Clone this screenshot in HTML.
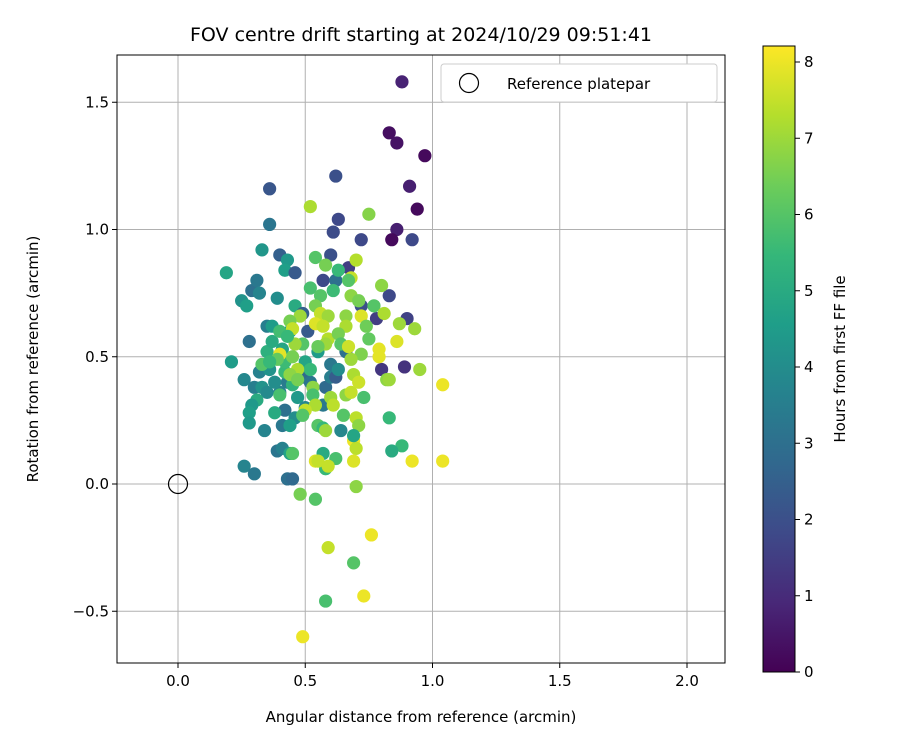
<!DOCTYPE html>
<html><head><meta charset="utf-8"><style>
body{margin:0;background:#fff;font-family:"Liberation Sans","DejaVu Sans",sans-serif}
svg text{font-family:"DejaVu Sans","Liberation Sans",sans-serif;fill:#000}
</style></head><body>
<svg id="c" width="900" height="750" xmlns="http://www.w3.org/2000/svg">
<rect width="900" height="750" fill="#fff"/>
<text x="421" y="41" text-anchor="middle" font-size="19">FOV centre drift starting at 2024/10/29 09:51:41</text>
<g id="grid"></g><g id="pts"></g><g id="ax"></g>
<defs><linearGradient id="vg" x1="0" y1="1" x2="0" y2="0">
</linearGradient></defs>
</svg>
<script>
const xs=[0.88,0.83,0.86,0.97,0.91,0.94,0.86,0.84,0.92,0.62,0.36,0.63,0.61,0.72,0.36,0.19,0.21,0.26,0.25,0.27,0.29,0.31,0.33,0.32,0.28,0.35,0.37,0.39,0.40,0.43,0.42,0.46,0.34,0.32,0.30,0.33,0.35,0.31,0.29,0.28,0.28,0.26,0.30,0.34,0.39,0.41,0.43,0.45,0.44,0.41,0.42,0.40,0.43,0.38,0.36,0.41,0.44,0.46,0.49,0.51,0.49,0.52,0.47,0.46,0.44,0.50,0.57,0.58,0.60,0.62,0.60,0.63,0.66,0.55,0.57,0.62,0.60,0.67,0.72,0.78,0.83,0.90,0.89,0.80,0.82,0.64,0.58,0.57,0.45,0.40,0.42,0.45,0.38,0.35,0.37,0.40,0.42,0.50,0.52,0.33,0.52,0.75,0.54,0.58,0.63,0.68,0.70,0.67,0.80,0.52,0.56,0.61,0.68,0.71,0.77,0.54,0.56,0.48,0.44,0.45,0.59,0.66,0.66,0.72,0.74,0.81,0.87,0.93,0.54,0.57,0.59,0.63,0.64,0.58,0.55,0.49,0.46,0.43,0.45,0.40,0.39,0.36,0.47,0.44,0.47,0.53,0.53,0.54,0.50,0.49,0.60,0.61,0.66,0.68,0.69,0.71,0.65,0.70,0.71,0.75,0.72,0.68,0.67,0.79,0.79,0.86,0.83,0.95,1.04,0.73,0.83,0.88,0.84,0.92,1.04,0.69,0.70,0.69,0.62,0.54,0.55,0.59,0.69,0.55,0.57,0.58,0.48,0.54,0.70,0.59,0.76,0.69,0.58,0.73,0.49];
const ys=[1.58,1.38,1.34,1.29,1.17,1.08,1.00,0.96,0.96,1.21,1.16,1.04,0.99,0.96,1.02,0.83,0.48,0.41,0.72,0.70,0.76,0.80,0.92,0.75,0.56,0.62,0.62,0.73,0.90,0.88,0.84,0.83,0.46,0.44,0.38,0.38,0.36,0.33,0.31,0.28,0.24,0.07,0.04,0.21,0.13,0.14,0.02,0.02,0.12,0.23,0.29,0.36,0.40,0.40,0.45,0.53,0.60,0.70,0.67,0.60,0.42,0.40,0.34,0.26,0.23,0.30,0.31,0.38,0.42,0.42,0.47,0.45,0.52,0.52,0.80,0.80,0.90,0.85,0.70,0.65,0.74,0.65,0.46,0.45,0.41,0.21,0.06,0.12,0.12,0.35,0.44,0.39,0.28,0.52,0.56,0.60,0.48,0.48,0.45,0.47,1.09,1.06,0.89,0.86,0.84,0.81,0.88,0.80,0.78,0.77,0.74,0.76,0.74,0.72,0.70,0.70,0.67,0.66,0.64,0.61,0.66,0.66,0.62,0.66,0.62,0.67,0.63,0.61,0.63,0.62,0.57,0.59,0.55,0.55,0.54,0.55,0.55,0.58,0.50,0.51,0.49,0.48,0.45,0.43,0.41,0.38,0.35,0.31,0.29,0.27,0.34,0.31,0.35,0.36,0.43,0.40,0.27,0.26,0.23,0.57,0.51,0.49,0.54,0.53,0.50,0.56,0.41,0.45,0.39,0.34,0.26,0.15,0.13,0.09,0.09,0.17,0.14,0.09,0.10,0.09,0.09,0.07,0.19,0.23,0.22,0.21,-0.04,-0.06,-0.01,-0.25,-0.20,-0.31,-0.46,-0.44,-0.60];
const hours=[0.8,0.3,0.4,0.2,0.7,0.2,0.7,0.2,1.8,2.0,2.2,1.8,1.9,1.8,3.2,4.8,4.5,3.8,4.2,4.6,3.0,3.3,4.3,3.7,3.0,3.5,4.5,4.0,2.5,4.4,4.6,2.3,4.0,3.6,3.5,4.2,3.9,5.0,4.4,4.6,4.4,3.7,3.3,3.7,3.2,3.6,3.0,2.8,4.7,3.3,3.0,3.6,3.4,4.0,4.2,4.8,4.3,5.0,2.5,2.3,2.8,3.2,4.4,4.0,4.6,3.8,3.3,2.8,3.5,2.4,3.3,4.0,3.0,4.5,1.8,3.0,2.0,1.5,2.0,1.5,1.8,1.6,1.2,1.3,6.8,3.8,5.5,5.0,6.0,5.8,5.5,5.3,5.0,5.2,5.0,5.7,5.6,4.8,5.5,6.0,7.2,6.7,6.0,6.5,5.5,7.5,7.3,6.0,6.8,5.8,6.0,5.6,6.8,6.5,6.0,6.5,7.5,7.0,6.5,7.5,7.0,6.8,7.2,7.8,6.4,7.2,7.0,7.0,7.8,7.5,7.3,6.5,6.0,7.0,6.3,6.0,7.0,5.5,6.5,7.9,6.2,5.5,7.2,6.8,6.5,6.8,5.8,7.2,7.5,6.0,7.0,7.4,6.8,7.5,7.2,7.6,6.0,7.4,6.8,6.2,6.6,7.0,7.6,7.9,7.9,7.8,7.0,7.0,8.0,5.8,5.5,5.5,5.0,8.0,8.0,8.0,7.4,7.8,5.8,7.8,7.5,7.5,4.8,6.0,5.5,7.0,6.5,6.0,6.8,7.5,8.0,6.0,5.8,8.0,8.0];
const xTicks=[0.0,0.5,1.0,1.5,2.0];
const yTicks=[-0.5,0.0,0.5,1.0,1.5];
const cTicks=[0,1,2,3,4,5,6,7,8];
const NS='http://www.w3.org/2000/svg';
const L=117,R=725,T=55,B=663;
const X=v=>178+v*254.5, Y=v=>484-v*254.5;
const CB0=672,CBT=46,CMAX=8.21;
const vir=[[68,1,84],[72,40,120],[62,74,137],[49,104,142],[38,130,142],[31,158,137],[53,183,121],[109,205,89],[180,222,44],[253,231,37]];
function cmap(h){let t=Math.max(0,Math.min(1,h/CMAX))*9,i=Math.min(8,Math.floor(t)),f=t-i;const a=vir[i],b=vir[i+1];return `rgb(${a.map((v,k)=>Math.round(v+(b[k]-v)*f)).join(',')})`;}
function mk(tag,at,par){const e=document.createElementNS(NS,tag);for(const k in at)e.setAttribute(k,at[k]);par.appendChild(e);return e;}
const svg=document.getElementById('c'),grid=document.getElementById('grid'),pts=document.getElementById('pts'),ax=document.getElementById('ax');
xTicks.forEach(v=>{const l=mk('line',{x1:X(v),x2:X(v),y1:T,y2:B,stroke:'#b0b0b0','stroke-width':1},grid);

});
yTicks.forEach(v=>{const l=mk('line',{x1:L,x2:R,y1:Y(v),y2:Y(v),stroke:'#b0b0b0','stroke-width':1},grid);

});
xs.forEach((x,i)=>{const c=mk('circle',{cx:X(x),cy:Y(ys[i]),r:6.6,fill:cmap(hours[i])},pts);

});
const ref=mk('circle',{cx:X(0),cy:Y(0),r:9.5,fill:'none',stroke:'#000','stroke-width':1.2},pts);


const fr=mk('rect',{x:L,y:T,width:R-L,height:B-T,fill:'none',stroke:'#000','stroke-width':1},ax);


xTicks.forEach(v=>{mk('line',{x1:X(v),x2:X(v),y1:B,y2:B+5,stroke:'#000'},ax);const t=mk('text',{x:X(v),y:B+23,'text-anchor':'middle','font-size':15},ax);t.textContent=v.toFixed(1);

});
yTicks.forEach(v=>{mk('line',{x1:L-5,x2:L,y1:Y(v),y2:Y(v),stroke:'#000'},ax);const t=mk('text',{x:L-8,y:Y(v)+5,'text-anchor':'end','font-size':15},ax);t.textContent=(v<0?'\u2212':'')+Math.abs(v).toFixed(1);

});
let t=mk('text',{x:421,y:722,'text-anchor':'middle','font-size':15},ax);t.textContent='Angular distance from reference (arcmin)';


t=mk('text',{x:38,y:359,'text-anchor':'middle','font-size':15,transform:'rotate(-90 38 359)'},ax);t.textContent='Rotation from reference (arcmin)';


const lg=mk('g',{},ax);


mk('rect',{x:441,y:64,width:276,height:38,rx:3,fill:'#fff',stroke:'#ccc'},lg);
mk('circle',{cx:469,cy:83,r:9.5,fill:'none',stroke:'#000','stroke-width':1.2},lg);
t=mk('text',{x:507,y:89,'font-size':15},lg);t.textContent='Reference platepar';


const g=document.getElementById('vg');
vir.forEach((c,i)=>mk('stop',{offset:(i/9*100)+'%','stop-color':`rgb(${c.join(',')})`},g));
const cb=mk('rect',{x:763,y:CBT,width:32,height:CB0-CBT,fill:'url(#vg)',stroke:'#000','stroke-width':1},ax);


cTicks.forEach(v=>{const y=CB0-v/CMAX*(CB0-CBT);mk('line',{x1:795,x2:800,y1:y,y2:y,stroke:'#000'},ax);const tt=mk('text',{x:804,y:y+5,'font-size':15},ax);tt.textContent=v;

});
t=mk('text',{x:845,y:359,'text-anchor':'middle','font-size':15,transform:'rotate(-90 845 359)'},ax);t.textContent='Hours from first FF file';


</script>
</body></html>
